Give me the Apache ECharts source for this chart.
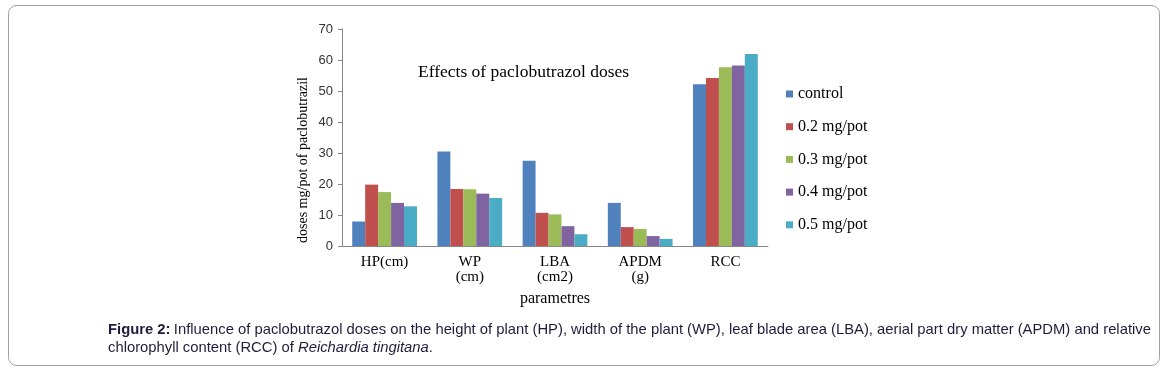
<!DOCTYPE html>
<html>
<head>
<meta charset="utf-8">
<script src="https://cdn.jsdelivr.net/npm/echarts@6/dist/echarts.min.js"></script>
<style>
html, body { margin: 0; padding: 0; background: #fff; }
#chart { width: 1170px; height: 373px; }
</style>
</head>
<body>
<div id="chart"></div>
<script>
var categories = ['HP(cm)', 'WP\n(cm)', 'LBA\n(cm2)', 'APDM\n(g)', 'RCC'];
var seriesNames = ['control', '0.2 mg/pot', '0.3 mg/pot', '0.4 mg/pot', '0.5 mg/pot'];
var control = [7.9, 30.5, 27.5, 13.9, 52.2];
var dose02 = [19.8, 18.4, 10.7, 6.1, 54.2];
var dose03 = [17.4, 18.3, 10.2, 5.5, 57.7];
var dose04 = [13.9, 16.9, 6.4, 3.2, 58.2];
var dose05 = [12.8, 15.5, 3.8, 2.3, 61.9];
var colors = ['#4F81BD', '#C0504D', '#9BBB59', '#8064A2', '#4BACC6'];

var dom = document.getElementById('chart');
var myChart = echarts.init(dom);
var serif = '"Liberation Serif", "DejaVu Serif", serif';
var sans = '"Liberation Sans", Arial, sans-serif';

var allData = [control, dose02, dose03, dose04, dose05];
var series = allData.map(function (d, i) {
    return {
        name: seriesNames[i],
        type: 'bar',
        data: d,
        itemStyle: { color: colors[i] },
        barGap: '0%',
        barCategoryGap: '24%'
    };
});

var option = {
    animation: false,
    textStyle: { fontFamily: serif },
    grid: { left: 342, right: 402, top: 29, bottom: 127 },
    legend: {
        orient: 'vertical',
        left: 781,
        top: 81,
        itemWidth: 7,
        itemHeight: 7,
        itemGap: 16.7,
        icon: 'rect',
        data: seriesNames,
        textStyle: { fontFamily: serif, fontSize: 16, color: '#000', lineHeight: 16 }
    },
    xAxis: {
        type: 'category',
        data: categories,
        name: 'parametres',
        nameLocation: 'middle',
        nameGap: 45,
        nameTextStyle: { fontFamily: serif, fontSize: 16, color: '#000' },
        axisLine: { lineStyle: { color: '#868686' } },
        axisTick: { show: false },
        axisLabel: { fontFamily: serif, fontSize: 15, color: '#000', lineHeight: 15, margin: 9 }
    },
    yAxis: {
        type: 'value',
        min: 0,
        max: 70,
        interval: 10,
        axisLine: { show: true, lineStyle: { color: '#868686' } },
        axisTick: { show: true, length: 4, lineStyle: { color: '#868686' } },
        splitLine: { show: false },
        axisLabel: { fontFamily: sans, fontSize: 13, color: '#333', margin: 9 }
    },
    graphic: [
        {
            type: 'rect',
            shape: { x: 8.5, y: 5.5, width: 1151, height: 360, r: 8 },
            style: { fill: 'none', stroke: '#a0a0a0', lineWidth: 1 },
            silent: true
        },
        {
            type: 'text',
            x: 303,
            y: 160,
            rotation: Math.PI / 2,
            style: {
                text: 'doses mg/pot of paclobutrazil',
                font: '14px ' + serif,
                fill: '#000',
                align: 'center',
                verticalAlign: 'middle'
            }
        },
        {
            type: 'text',
            left: 418,
            top: 63,
            style: { text: 'Effects of paclobutrazol doses', font: '17.5px ' + serif, fill: '#000' }
        },
        {
            type: 'text',
            left: 108,
            top: 322,
            style: {
                text: '{b|Figure 2:} {n|Influence of paclobutrazol doses on the height of plant (HP), width of the plant (WP), leaf blade area (LBA), aerial part dry matter (APDM) and relative}\n{n|chlorophyll content (RCC) of }{i|Reichardia tingitana}{n|.}',
                fill: '#1d1d3b',
                rich: {
                    b: { fontFamily: sans, fontSize: 14.8, fontWeight: 'bold', fill: '#1d1d3b', lineHeight: 18 },
                    n: { fontFamily: sans, fontSize: 14.8, fill: '#1d1d3b', lineHeight: 18 },
                    i: { fontFamily: sans, fontSize: 14.8, fontStyle: 'italic', fill: '#1d1d3b', lineHeight: 18 }
                }
            }
        }
    ],
    series: series
};

if (option && typeof option === 'object') {
    myChart.setOption(option, true);
}
</script>
</body>
</html>
